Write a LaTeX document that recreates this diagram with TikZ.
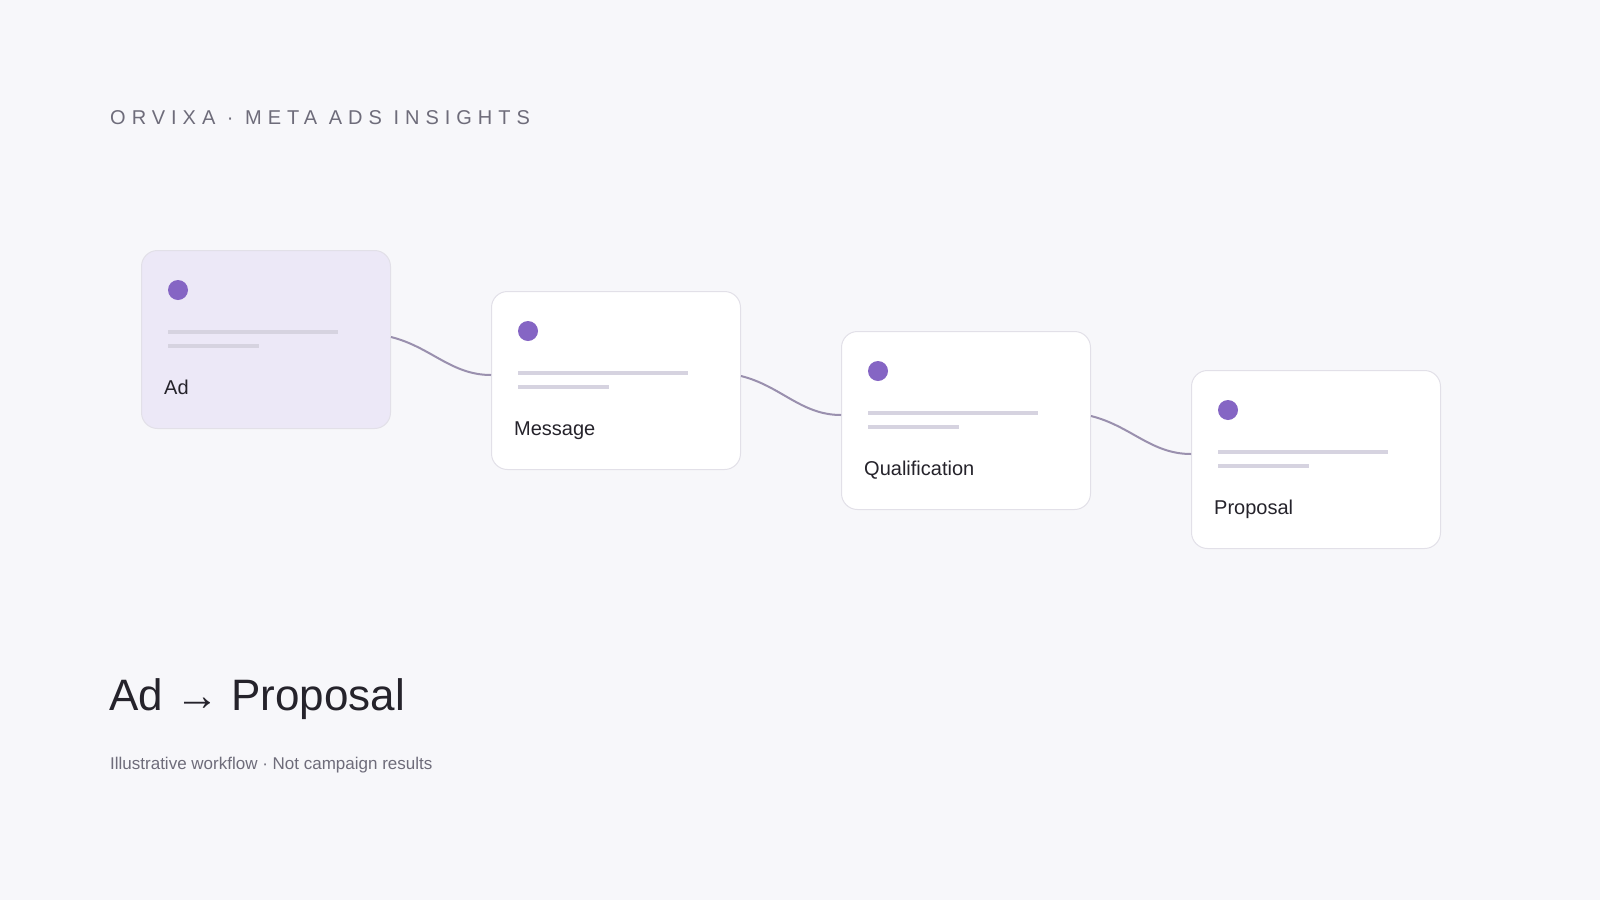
\documentclass[tikz,border=0pt]{standalone}
\usepackage{fontspec}
\setmainfont{Liberation Sans}
\newfontfamily\spaced[LetterSpace=30]{Liberation Sans}
\definecolor{bg}{HTML}{F7F7FA}
\definecolor{dot}{HTML}{8565C4}
\definecolor{bar}{HTML}{D6D3E0}
\definecolor{edge}{HTML}{E2E0E8}
\definecolor{act}{HTML}{ECE8F7}
\definecolor{conn}{HTML}{9A90AE}
\definecolor{ink}{HTML}{25232B}
\definecolor{gray}{HTML}{6E6C7A}
\begin{document}
\begin{tikzpicture}[x=1pt,y=-1pt,
  card/.style={draw=edge,line width=1pt,rounded corners=16pt,minimum width=249pt,minimum height=178pt,inner sep=0pt},
  conn/.style={draw=conn,line width=2pt},
  lab/.style={anchor=base west,font=\fontsize{20}{24}\selectfont,text=ink,inner sep=0pt}]
\fill[bg] (0,0) rectangle (1600,900);
\node[anchor=base west,inner sep=0pt,text=gray,font=\spaced\fontsize{20}{24}\selectfont] (title) at (110,124) {ORVIXA · META ADS INSIGHTS};
\foreach \i/\x/\y/\t/\f in {1/141/250/Ad/act,2/491/291/Message/white,3/841/331/Qualification/white,4/1191/370/Proposal/white}{
  \node[card,fill=\f,anchor=north west] (c\i) at (\x,\y) {};
  \fill[dot] (\x+37,\y+40) circle (10);
  \draw[bar,line width=4pt] (\x+27,\y+82) -- (\x+197,\y+82);
  \draw[bar,line width=4pt] (\x+27,\y+96) -- (\x+118,\y+96);
  \node[lab] (l\i) at (\x+23,\y+144) {\t};
}
\draw[conn] (c1.north east)++(0,87) .. controls ++(40,10) and ++(-40,0) .. (491,375);
\draw[conn] (c2.north east)++(0,85) .. controls ++(40,10) and ++(-40,0) .. (841,415);
\draw[conn] (c3.north east)++(0,85) .. controls ++(40,10) and ++(-40,0) .. (1191,454);
\node[anchor=base west,inner sep=0pt,text=ink,font=\fontsize{44}{50}\selectfont] (big) at (109,710) {Ad → Proposal};
\node[anchor=base west,inner sep=0pt,text=gray,font=\fontsize{17}{20}\selectfont] (sub) at (110,769) {Illustrative workflow · Not campaign results};
\end{tikzpicture}
\end{document}
